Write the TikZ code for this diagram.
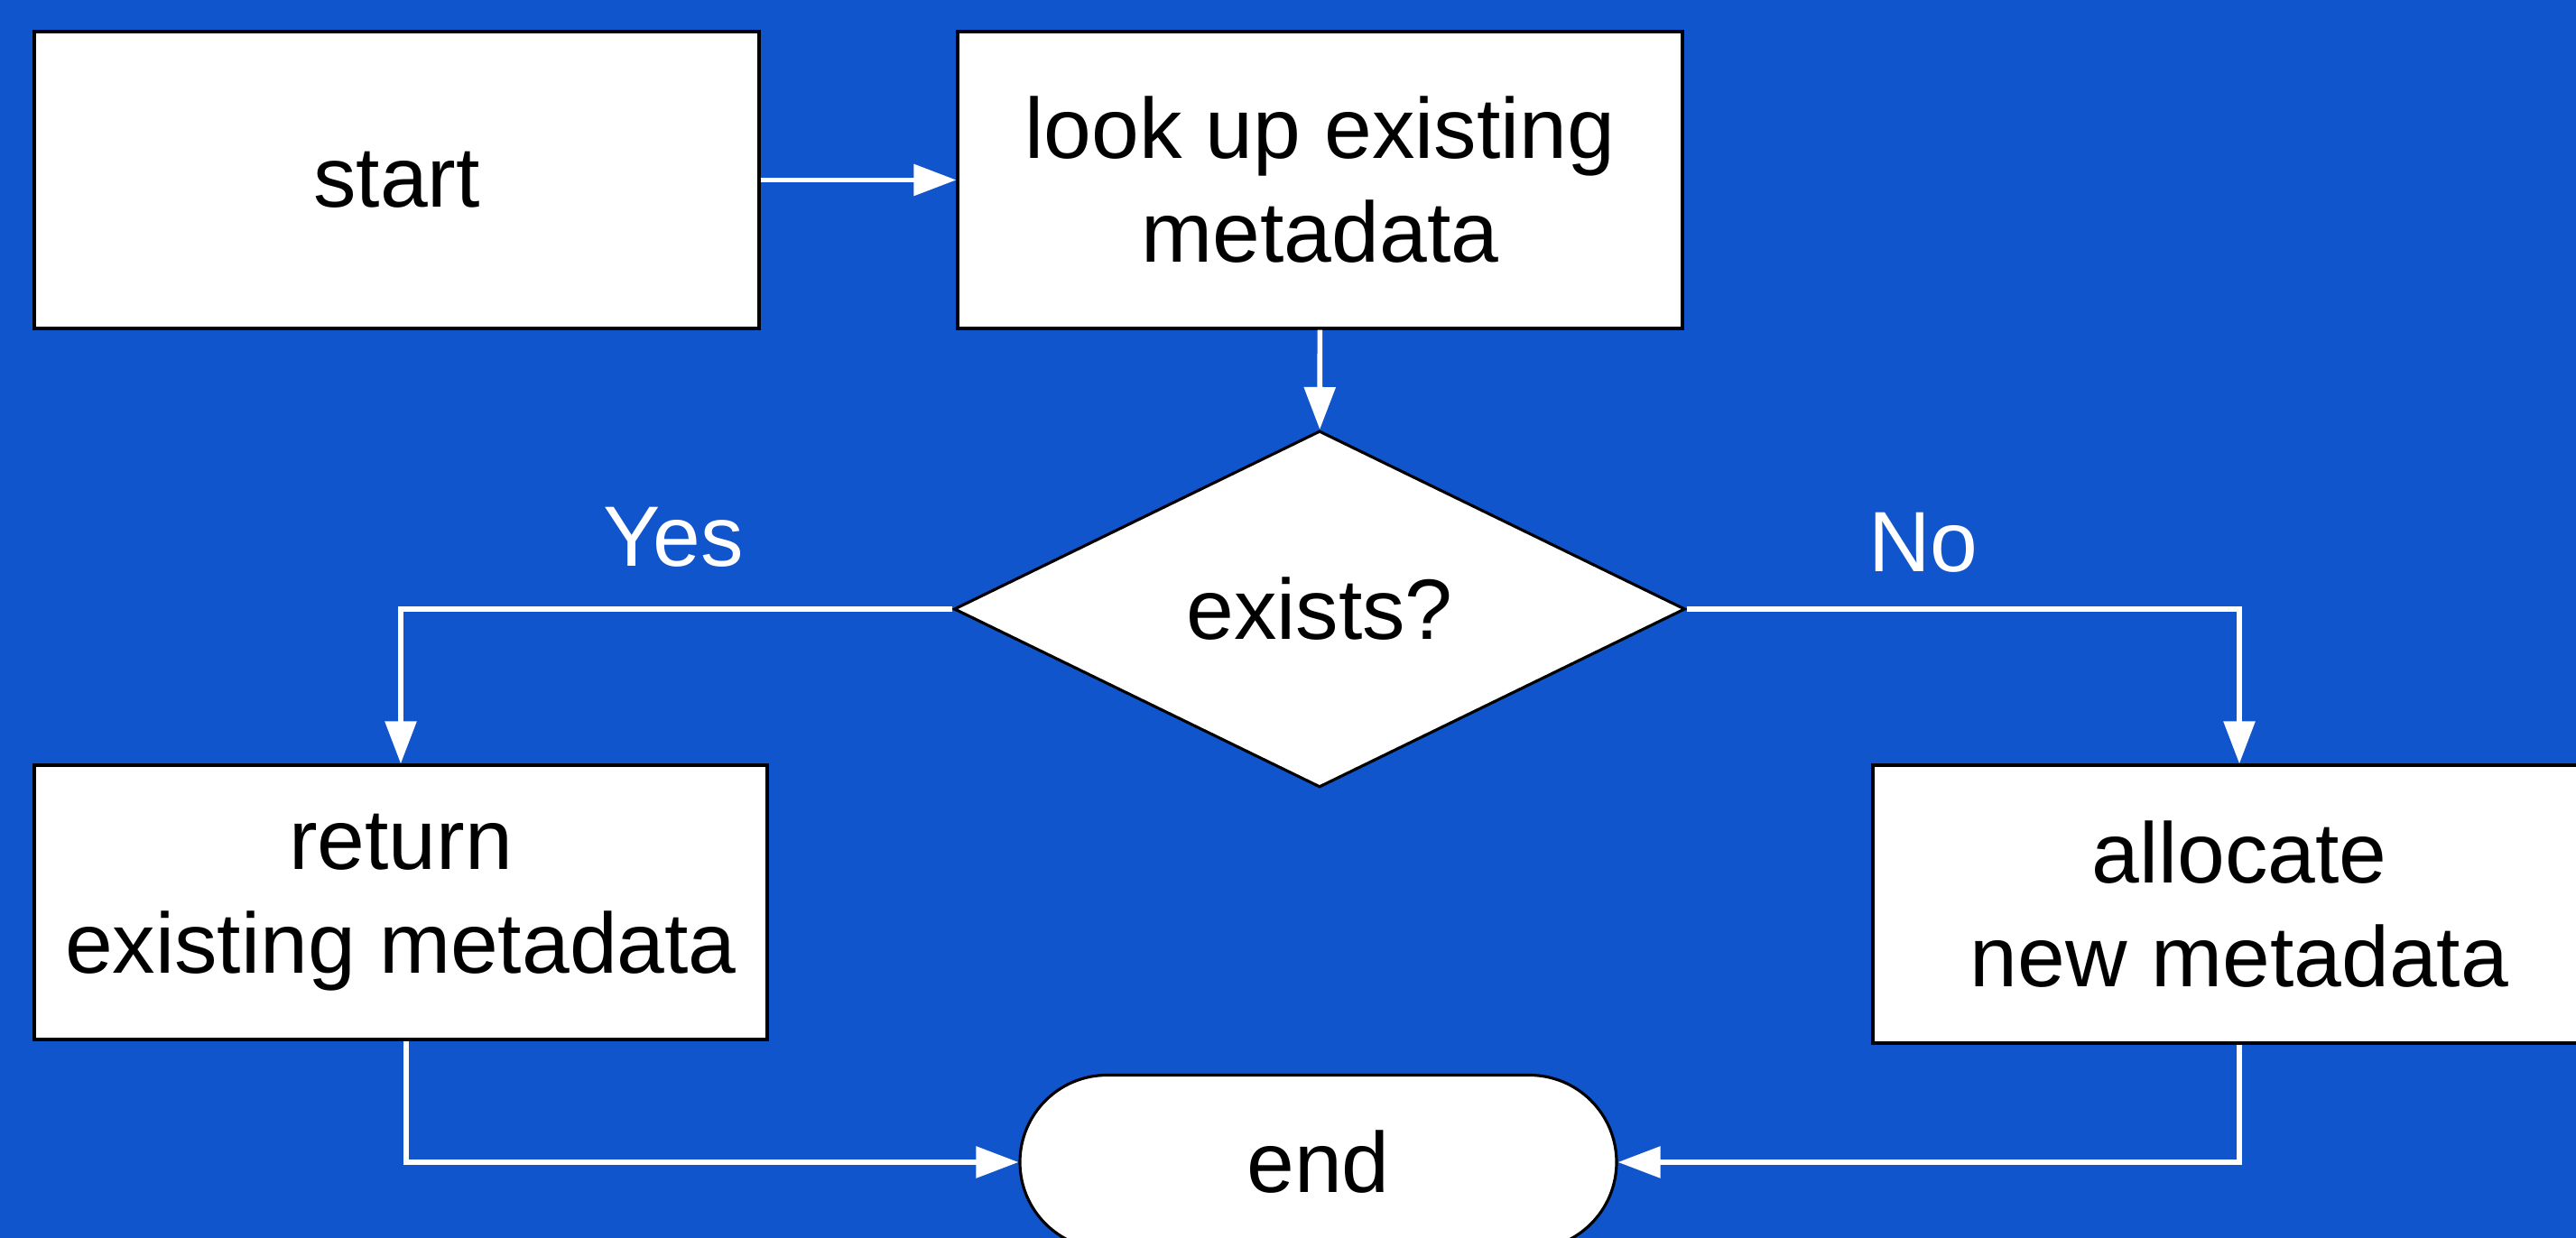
\documentclass[tikz,border=0pt]{standalone}
\usepackage{fontspec}
\setmainfont{Liberation Sans}
\usetikzlibrary{shapes.geometric, shapes.misc, arrows.meta}
\definecolor{bgblue}{HTML}{1155CC}

\begin{document}
\begin{tikzpicture}[
    every node/.style={font=\fontsize{27}{32.7}\selectfont, align=center},
    box/.style={draw=black, fill=white, line width=0.9pt, minimum width=8.03cm, minimum height=3.29cm, inner sep=0pt},
    decision/.style={diamond, draw=black, fill=white, line width=0.9pt, minimum width=8.1cm, minimum height=3.95cm, inner sep=0pt},
    terminal/.style={rounded rectangle, draw=black, fill=white, line width=0.9pt, minimum width=6.61cm, minimum height=1.93cm, inner sep=0pt},
    flow/.style={white, line width=1.6pt, -{Triangle[length=4.7mm, width=3.4mm]}},
    answer/.style={text=white}
]
    \useasboundingbox (0,0) rectangle (28.54,13.72);
    \fill[bgblue] (0,0) rectangle (28.54,13.72);

    % boxes
    \node[box] (start) at (4.395,11.725) {start};
    \node[box] (lookup) at (14.625,11.725) {look up existing\\metadata};
    \node[decision] (exists) at (14.62,6.97) {exists?};
    \node[box, minimum width=8.12cm, minimum height=3.04cm] (return) at (4.44,3.72) {return\\existing metadata};
    \node[box, minimum width=8.12cm, minimum height=3.08cm] (alloc) at (24.81,3.70) {allocate\\new metadata};
    \node[terminal] (end) at (14.605,0.84) {end};

    \node[answer] (yes) at (7.46,7.77) {Yes};
    \node[answer] (no) at (21.31,7.71) {No};

    % connectors
    \draw[flow] (start) -- (lookup);
    \draw[flow] (lookup) -- (exists);
    \draw[flow] (exists.west) -| (return.north);
    \draw[flow] (exists.east) -| (alloc.north);
    \draw[flow] ([xshift=0.06cm]return.south) |- (end.west);
    \draw[flow] (alloc.south) |- (end.east);
\end{tikzpicture}
\end{document}
